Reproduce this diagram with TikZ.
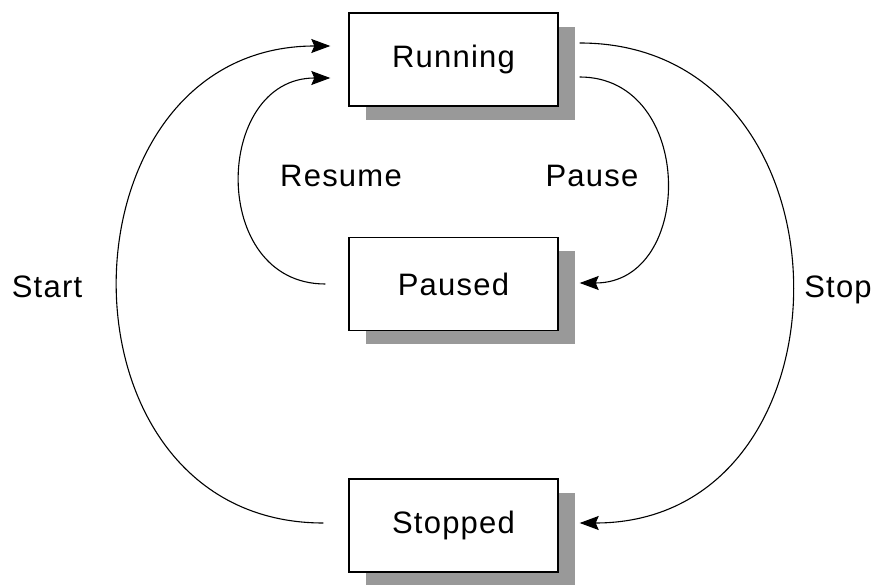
\documentclass[tikz,border=0pt]{standalone}
\usepackage{fontspec}
\setmainfont[LetterSpace=4]{Liberation Sans}
\usetikzlibrary{arrows.meta,shadows}
\tikzstyle{statebox} = [
	rectangle,
	draw,
	line width = 1.4pt,
	fill = white,
	minimum width = 209pt,
	minimum height = 93pt,
	drop shadow = {shadow xshift = 17pt, shadow yshift = -14pt, fill = black!40, opacity = 1}
	]
\tikzstyle{trans} = [
	-{Stealth[length=19pt,width=14pt,inset=3pt]},
	line width = 1.1pt,
	draw
	]
\tikzstyle{lbl} = [
	anchor = base,
	inner sep = 0pt
	]

\begin{document}
\begin{tikzpicture}[x=1pt,y=1pt,font=\fontsize{31}{36}\selectfont]
		\useasboundingbox (0,0) rectangle (880,584);
		\node[statebox] (run) at (453.5,524.5) {Running};
		\node[statebox] (pau) at (453.5,300) {Paused};
		\node[statebox] (stp) at (453.5,58.5) {Stopped};
		\node[lbl] (lstart) at (47,286) {Start};
		\node[lbl] (lstop) at (838,286) {Stop};
		\node[lbl] (lresume) at (341,397) {Resume};
		\node[lbl] (lpause) at (592,397) {Pause};
		% outer loop: start / stop
		\draw[trans] ([xshift=-25pt,yshift=2.5pt]stp.west) to[out=180,in=180,looseness=1.49] ([xshift=-18pt,yshift=13.5pt]run.west);
		\draw[trans] ([xshift=21pt,yshift=16.5pt]run.east) to[out=0,in=0,looseness=1.51] ([xshift=21pt,yshift=2.5pt]stp.east);
		% inner loop: pause / resume
		\draw[trans] ([xshift=21pt,yshift=-17.5pt]run.east) to[out=0,in=0,looseness=1.44] ([xshift=21pt,yshift=1pt]pau.east);
		\draw[trans] ([xshift=-23pt]pau.west) to[out=180,in=180,looseness=1.45] ([xshift=-18pt,yshift=-18.5pt]run.west);
	\end{tikzpicture}
\end{document}
